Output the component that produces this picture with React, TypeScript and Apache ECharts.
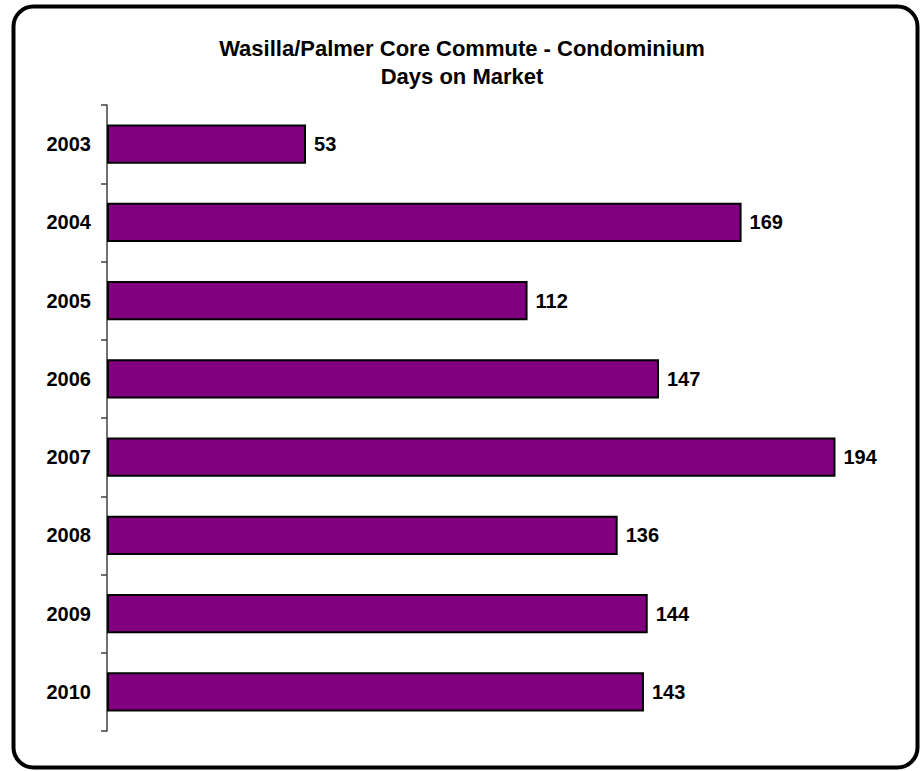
import React, { useEffect, useRef } from "react";
import * as echarts from "echarts";

const categories = ["2003", "2004", "2005", "2006", "2007", "2008", "2009", "2010"];
const daysOnMarket = [53, 169, 112, 147, 194, 136, 144, 143];
const titleLines = ["Wasilla/Palmer Core Commute - Condominium", "Days on Market"];

const FONT = "'Liberation Sans', Arial, Helvetica, sans-serif";

export default function App() {
  const ref = useRef<HTMLDivElement>(null);
  useEffect(() => {
    if (!ref.current) return;
    const chart = echarts.init(ref.current, undefined, { renderer: "svg" });
    chart.setOption({
      animation: false,
      backgroundColor: "#ffffff",
      textStyle: { fontFamily: FONT },
      title: {
        text: titleLines.join("\n"),
        left: "center",
        top: 29,
        textStyle: {
          fontFamily: FONT,
          fontSize: 22,
          fontWeight: "bold",
          color: "#000",
          lineHeight: 28,
        },
      },
      graphic: [
        {
          type: "rect",
          shape: { x: 13.5, y: 6.5, width: 904, height: 761, r: 20 },
          style: { fill: "none", stroke: "#000", lineWidth: 4 },
          z: 10,
        },
      ],
      grid: { left: 107, top: 105, width: 751, height: 626, containLabel: false },
      xAxis: {
        type: "value",
        min: 0,
        max: 200,
        show: false,
      },
      yAxis: {
        type: "category",
        data: categories,
        inverse: true,
        axisLine: { show: true, lineStyle: { color: "#404040", width: 1.5 } },
        axisTick: { show: true, length: 6, lineStyle: { color: "#404040", width: 1.5 } },
        axisLabel: {
          margin: 16,
          fontFamily: FONT,
          fontSize: 20,
          fontWeight: "bold",
          color: "#000",
        },
        splitLine: { show: false },
      },
      series: [
        {
          type: "bar",
          data: daysOnMarket,
          barWidth: "50%",
          itemStyle: { color: "#800080", borderColor: "#000", borderWidth: 2 },
          label: {
            show: true,
            position: "right",
            distance: 8,
            fontFamily: FONT,
            fontSize: 20,
            fontWeight: "bold",
            color: "#000",
          },
        },
      ],
    });
    return () => chart.dispose();
  }, []);
  return (
    <div
      ref={ref}
      style={{ position: "absolute", left: 0, top: 0, width: 924, height: 771 }}
    />
  );
}
